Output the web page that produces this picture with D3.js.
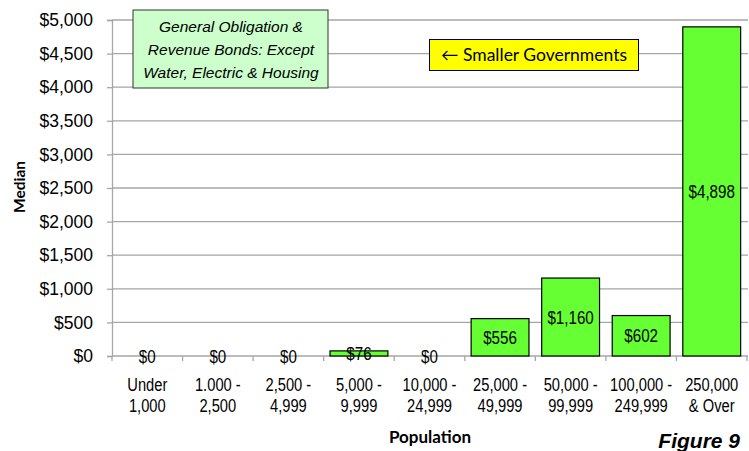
<!DOCTYPE html>
<html><head><meta charset="utf-8">
<script src="https://cdn.jsdelivr.net/npm/d3@7"></script>
<style>body{margin:0;background:#fff}svg{display:block}</style>
</head><body>
<script>
const categories = [["Under","1,000"],["1.000 -","2,500"],["2,500 -","4,999"],["5,000 -","9,999"],["10,000 -","24,999"],["25,000 -","49,999"],["50,000 -","99,999"],["100,000 -","249,999"],["250,000","& Over"]];
const values = [0,0,0,76,0,556,1160,602,4898];
const yTicks = [0,500,1000,1500,2000,2500,3000,3500,4000,4500,5000];

const W=749,H=451;
const left=112,right=747;
const svg=d3.select("body").append("svg").attr("width",W).attr("height",H);
const x=d3.scaleBand().domain(categories.map((d,i)=>i)).range([left,right]).paddingInner(0.18).paddingOuter(0.09);
const y=d3.scaleLinear().domain([0,5000]).range([356,20]);
const fmt=d=>"$"+d3.format(",")(d);
const AR="Liberation Sans, Arial, sans-serif";
const CAL="Lato, sans-serif";
const gridCol="#a6a6a6";

// gridlines
svg.append("g").selectAll("line").data(yTicks.filter(d=>d>0)).join("line")
 .attr("x1",left).attr("x2",748).attr("y1",d=>y(d)).attr("y2",d=>y(d))
 .attr("stroke",gridCol).attr("stroke-width",1.3);

// y axis
const ya=svg.append("g").attr("transform",`translate(${left},0)`)
 .call(d3.axisLeft(y).tickValues(yTicks).tickFormat(fmt).tickSize(5).tickPadding(14));
ya.select(".domain").attr("stroke",gridCol).attr("stroke-width",1.3);
ya.selectAll(".tick line").attr("stroke",gridCol).attr("stroke-width",1.3);
ya.selectAll("text").attr("font-family",AR).attr("font-size",17.5).attr("fill","#000");

// x axis baseline + ticks
const stepW=(right-left)/categories.length;
svg.append("line").attr("x1",left).attr("x2",748).attr("y1",y(0)).attr("y2",y(0)).attr("stroke",gridCol).attr("stroke-width",1.3);
svg.append("g").selectAll("line").data(d3.range(categories.length+1)).join("line")
 .attr("x1",i=>left+i*stepW).attr("x2",i=>left+i*stepW)
 .attr("y1",y(0)).attr("y2",y(0)+5).attr("stroke",gridCol).attr("stroke-width",1.3);

// bars
svg.append("g").selectAll("rect").data(values).join("rect")
 .attr("x",(d,i)=>x(i)).attr("width",x.bandwidth())
 .attr("y",d=>y(d)).attr("height",d=>y(0)-y(d))
 .attr("fill","#66ff33").attr("stroke","#000").attr("stroke-width",1.2);

// value labels (narrow rendering)
svg.append("g").selectAll("text").data(values).join("text")
 .attr("transform",(d,i)=>`translate(${x(i)+x.bandwidth()/2},${(y(d)+y(0))/2}) scale(0.82,1)`)
 .attr("dy","0.36em").attr("text-anchor","middle")
 .attr("font-family",AR).attr("font-size",18.5).attr("fill","#000")
 .text(fmt);

// category labels (narrow rendering)
const cl=svg.append("g").selectAll("text").data(categories).join("text")
 .attr("transform",(d,i)=>`translate(${x(i)+x.bandwidth()/2},0) scale(0.84,1)`)
 .attr("text-anchor","middle").attr("font-family",AR).attr("font-size",17.5).attr("fill","#000");
cl.each(function(d){
  const t=d3.select(this);
  d.forEach((s,j)=>t.append("tspan").attr("x",0).attr("y",391+j*21.5).text(s));
});

// axis titles
svg.append("text").attr("transform","translate(25,187) rotate(-90)").attr("text-anchor","middle")
 .attr("font-family",CAL).attr("font-weight","bold").attr("font-size",15.5).text("Median");
svg.append("text").attr("x",430).attr("y",443).attr("text-anchor","middle")
 .attr("font-family",CAL).attr("font-weight","bold").attr("font-size",17).text("Population");
svg.append("text").attr("x",740).attr("y",448).attr("text-anchor","end")
 .attr("font-family",AR).attr("font-weight","bold").attr("font-style","italic").attr("font-size",21).text("Figure 9");

// green annotation box
svg.append("rect").attr("x",133).attr("y",10).attr("width",195).attr("height",78)
 .attr("fill","#ccffcc").attr("stroke","#333").attr("stroke-width",1);
const gl=["General Obligation &","Revenue Bonds: Except","Water, Electric & Housing"];
svg.append("g").selectAll("text").data(gl).join("text")
 .attr("x",231).attr("y",(d,i)=>32+i*23).attr("text-anchor","middle")
 .attr("font-family",AR).attr("font-style","italic").attr("font-size",15.5).text(d=>d);

// yellow box
svg.append("rect").attr("x",429.5).attr("y",39.5).attr("width",209).attr("height",31)
 .attr("fill","#ffff00").attr("stroke","#000").attr("stroke-width",1);
svg.append("text").attr("x",534).attr("y",61).attr("text-anchor","middle")
 .attr("font-family",CAL).attr("font-size",17.5).text("\u2190 Smaller Governments");
</script>
</body></html>
